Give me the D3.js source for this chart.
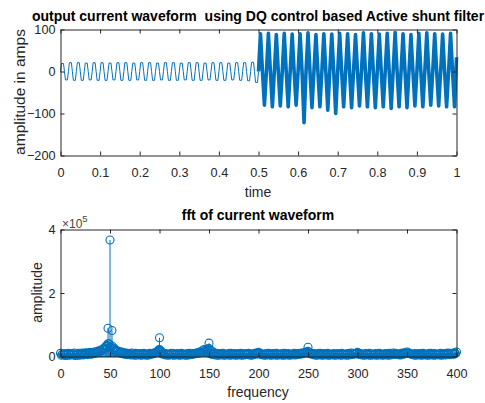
<!DOCTYPE html>
<html>
<head>
<meta charset="utf-8">
<script src="https://cdn.jsdelivr.net/npm/d3@7/dist/d3.min.js"></script>
<style>
body { margin: 0; background: #fff; }
text { font-family: "Liberation Sans", Arial, Helvetica, sans-serif; fill: #262626; white-space: pre; }
</style>
</head>
<body>
<svg id="fig" width="485" height="403"></svg>
<script>
// ---- top plot: output current, one peak / trough per 50 Hz cycle ----
var cycleLen = 0.02;
var lowPeaks   = [19, 21, 21, 20, 21, 21, 20, 21, 21, 20, 21, 21, 20, 21, 21, 20, 21, 21, 20, 21, 21, 20, 21, 21, 22];
var lowTroughs = [-20, -21, -21, -20, -21, -21, -20, -21, -21, -20, -21, -21, -20, -21, -21, -20, -21, -21, -20, -21, -21, -20, -21, -22, -26];
var highStart = 0.5;
var highPeaks   = [90, 91, 88, 91, 89, 90, 92, 88, 90, 89, 91, 90, 88, 92, 90, 89, 91, 93, 90, 88, 91, 92, 90, 89, 91];
var highTroughs = [-80, -84, -82, -84, -80, -122, -86, -84, -92, -100, -84, -86, -82, -84, -86, -84, -88, -84, -86, -82, -84, -80, -82, -84, -84];
var endValue = 34;
var timeTicks = [0, 0.1, 0.2, 0.3, 0.4, 0.5, 0.6, 0.7, 0.8, 0.9, 1];
var ampTicks = [-200, -100, 0, 100];

// ---- bottom plot: fft amplitude (x10^5) ----
// noise floor, even bins 0,2,...,400 Hz
var floorEven = [
  0.10, 0.07, 0.09, 0.06, 0.10, 0.08, 0.09, 0.11, 0.07, 0.10, 0.09, 0.11, 0.10, 0.12, 0.11, 0.13, 0.12, 0.14, 0.15, 0.17,
  0.19, 0.22, 0.26, 0.32, 0.40, 0.30, 0.33, 0.24, 0.20, 0.17, 0.15, 0.14, 0.12, 0.11, 0.10, 0.09, 0.11, 0.08, 0.10, 0.07,
  0.09, 0.07, 0.10, 0.08, 0.07, 0.10, 0.09, 0.11, 0.12, 0.16, 0.22, 0.15, 0.11, 0.09, 0.08, 0.07, 0.10, 0.09, 0.07, 0.09,
  0.07, 0.10, 0.08, 0.07, 0.09, 0.10, 0.07, 0.09, 0.10, 0.11, 0.11, 0.12, 0.14, 0.17, 0.22, 0.25, 0.19, 0.14, 0.11, 0.09,
  0.09, 0.07, 0.10, 0.08, 0.07, 0.09, 0.10, 0.07, 0.09, 0.07, 0.09, 0.10, 0.07, 0.09, 0.07, 0.10, 0.08, 0.07, 0.10, 0.11,
  0.13, 0.10, 0.08, 0.07, 0.09, 0.10, 0.07, 0.09, 0.07, 0.10, 0.08, 0.07, 0.09, 0.10, 0.07, 0.09, 0.07, 0.08, 0.10, 0.07,
  0.09, 0.10, 0.11, 0.12, 0.14, 0.16, 0.12, 0.10, 0.09, 0.07, 0.09, 0.10, 0.07, 0.09, 0.07, 0.10, 0.08, 0.07, 0.09, 0.07,
  0.09, 0.07, 0.10, 0.08, 0.07, 0.09, 0.10, 0.11, 0.08, 0.10, 0.13, 0.10, 0.08, 0.07, 0.09, 0.07, 0.10, 0.08, 0.07, 0.09,
  0.07, 0.10, 0.08, 0.07, 0.09, 0.07, 0.10, 0.08, 0.11, 0.10, 0.08, 0.07, 0.10, 0.11, 0.12, 0.14, 0.11, 0.08, 0.07, 0.09,
  0.07, 0.09, 0.07, 0.10, 0.08, 0.07, 0.09, 0.10, 0.07, 0.09, 0.07, 0.08, 0.10, 0.07, 0.09, 0.10, 0.11, 0.09, 0.10, 0.12,
  0.14
];
// noise floor, odd bins 1,3,...,399 Hz
var floorOdd = [
  0.04, 0.06, 0.03, 0.05, 0.04, 0.06, 0.05, 0.03, 0.05, 0.04, 0.06, 0.05, 0.07, 0.06, 0.08, 0.07, 0.09, 0.10, 0.12, 0.14,
  0.18, 0.21, 0.27, 0.35, 0.40, 0.28, 0.22, 0.17, 0.14, 0.12, 0.10, 0.09, 0.07, 0.06, 0.08, 0.05, 0.06, 0.04, 0.05, 0.06,
  0.04, 0.05, 0.06, 0.04, 0.05, 0.07, 0.08, 0.10, 0.13, 0.18, 0.12, 0.08, 0.06, 0.05, 0.04, 0.06, 0.05, 0.04, 0.06, 0.05,
  0.04, 0.06, 0.05, 0.04, 0.05, 0.06, 0.07, 0.08, 0.10, 0.12, 0.14, 0.18, 0.22, 0.16, 0.12, 0.09, 0.07, 0.06, 0.05, 0.04,
  0.05, 0.06, 0.04, 0.05, 0.06, 0.04, 0.05, 0.06, 0.04, 0.05, 0.06, 0.04, 0.05, 0.06, 0.07, 0.05, 0.04, 0.06, 0.07, 0.09,
  0.08, 0.06, 0.05, 0.04, 0.06, 0.05, 0.04, 0.06, 0.05, 0.04, 0.06, 0.05, 0.04, 0.05, 0.06, 0.04, 0.05, 0.06, 0.05, 0.06,
  0.07, 0.08, 0.09, 0.11, 0.13, 0.10, 0.08, 0.06, 0.05, 0.04, 0.06, 0.05, 0.04, 0.06, 0.05, 0.04, 0.05, 0.06, 0.04, 0.05,
  0.06, 0.04, 0.05, 0.06, 0.04, 0.05, 0.06, 0.07, 0.08, 0.09, 0.07, 0.06, 0.05, 0.04, 0.06, 0.05, 0.04, 0.05, 0.06, 0.04,
  0.05, 0.06, 0.04, 0.05, 0.06, 0.04, 0.05, 0.06, 0.07, 0.08, 0.06, 0.05, 0.06, 0.08, 0.10, 0.11, 0.09, 0.07, 0.05, 0.04,
  0.06, 0.05, 0.04, 0.06, 0.05, 0.04, 0.05, 0.06, 0.04, 0.05, 0.06, 0.05, 0.04, 0.06, 0.05, 0.07, 0.06, 0.08, 0.07, 0.09
];
var peakFreq = [46, 48, 50, 52, 54, 99, 100, 101, 149, 150, 151, 249, 250];
var peakAmp  = [0.31, 0.89, 3.67, 0.82, 0.27, 0.20, 0.59, 0.18, 0.24, 0.42, 0.20, 0.12, 0.29];
var freqTicks = [0, 50, 100, 150, 200, 250, 300, 350, 400];
var fftTicks = [0, 2, 4];

var blue = "#0072bd", axCol = "#262626";
var svg = d3.select("#fig");

function drawBox(g, x, y, xt, yt, xfmt, yfmt) {
  g.append("g").attr("transform", "translate(0," + y.range()[0] + ")")
    .call(d3.axisBottom(x).tickValues(xt).tickSize(-4).tickSizeOuter(0).tickPadding(12).tickFormat(xfmt));
  g.append("g").attr("transform", "translate(0," + y.range()[1] + ")")
    .call(d3.axisTop(x).tickValues(xt).tickSize(-4).tickSizeOuter(0).tickFormat(""));
  g.append("g").attr("transform", "translate(" + x.range()[0] + ",0)")
    .call(d3.axisLeft(y).tickValues(yt).tickSize(-4).tickSizeOuter(0).tickPadding(5).tickFormat(yfmt));
  g.append("g").attr("transform", "translate(" + x.range()[1] + ",0)")
    .call(d3.axisRight(y).tickValues(yt).tickSize(-4).tickSizeOuter(0).tickFormat(""));
  g.selectAll(".domain, .tick line").attr("stroke", axCol);
  g.selectAll(".tick text").attr("font-size", "12.7px").attr("font-family", null).style("fill", axCol);
}

// ---------- top ----------
var x1 = d3.scaleLinear().domain([0, 1]).range([60.5, 456.5]);
var y1 = d3.scaleLinear().domain([-200, 100]).range([155.5, 29.5]);
var topG = svg.append("g");

var lowPts = [];
lowPeaks.forEach(function (p, k) {
  var t0 = k * cycleLen;
  lowPts.push([t0, 0], [t0 + 0.0025, p], [t0 + 0.0075, p], [t0 + 0.01, 0],
              [t0 + 0.0125, lowTroughs[k]], [t0 + 0.0175, lowTroughs[k]]);
});
lowPts.push([highStart, 0]);
var highPts = [];
highPeaks.forEach(function (p, k) {
  var t0 = highStart + k * cycleLen;
  highPts.push([t0, 0], [t0 + 0.005, p], [t0 + 0.01, 0], [t0 + 0.015, highTroughs[k]]);
});
highPts.push([1, endValue]);

var line1 = d3.line().x(function (d) { return x1(d[0]); }).y(function (d) { return y1(d[1]); });
topG.append("path").attr("d", line1(lowPts)).attr("fill", "none").attr("stroke", blue).attr("stroke-width", 1);
topG.append("path").attr("d", line1(highPts)).attr("fill", "none").attr("stroke", blue)
  .attr("stroke-width", 3.6).attr("stroke-linejoin", "round");

drawBox(topG, x1, y1, timeTicks, ampTicks, d3.format("~g"), d3.format("d"));

topG.append("text").attr("x", 258).attr("y", 20.5).attr("text-anchor", "middle")
  .attr("font-size", "14px").attr("font-weight", "bold").style("fill", "#000")
  .text("output current waveform  using DQ control based Active shunt filter");
topG.append("text").attr("x", 258).attr("y", 197).attr("text-anchor", "middle")
  .attr("font-size", "14px").text("time");
topG.append("text").attr("transform", "translate(25,92) rotate(-90)").attr("text-anchor", "middle")
  .attr("font-size", "15.5px").text("amplitude in amps");

// ---------- bottom ----------
var x2 = d3.scaleLinear().domain([0, 400]).range([60.5, 456.5]);
var y2 = d3.scaleLinear().domain([0, 4]).range([356.5, 229.5]);
var botG = svg.append("g");

var stems = [];
floorEven.forEach(function (a, i) { stems.push({ f: 2 * i, a: a }); });
floorOdd.forEach(function (a, i) { stems.push({ f: 2 * i + 1, a: a }); });
peakFreq.forEach(function (f, i) { stems.push({ f: f, a: peakAmp[i] }); });

botG.selectAll("line.stem").data(stems).enter().append("line").attr("class", "stem")
  .attr("x1", function (d) { return x2(d.f); }).attr("x2", function (d) { return x2(d.f); })
  .attr("y1", y2(0)).attr("y2", function (d) { return y2(d.a); })
  .attr("stroke", blue).attr("stroke-width", 1);
botG.append("line").attr("x1", x2(0)).attr("x2", x2(400)).attr("y1", y2(0)).attr("y2", y2(0))
  .attr("stroke", blue).attr("stroke-width", 1);
botG.selectAll("circle").data(stems).enter().append("circle")
  .attr("cx", function (d) { return x2(d.f); }).attr("cy", function (d) { return y2(d.a); })
  .attr("r", 4).attr("fill", "none").attr("stroke", blue).attr("stroke-width", 1.1);

drawBox(botG, x2, y2, freqTicks, fftTicks, d3.format("d"), d3.format("d"));

var ex = botG.append("text").attr("x", 62).attr("y", 228).attr("font-size", "12px").style("fill", "#444");
ex.append("tspan").text("\u00d710");
ex.append("tspan").attr("dy", -6).attr("font-size", "9.5px").text("5");

botG.append("text").attr("x", 258).attr("y", 220).attr("text-anchor", "middle")
  .attr("font-size", "14px").attr("font-weight", "bold").style("fill", "#000")
  .text("fft of current waveform");
botG.append("text").attr("x", 258).attr("y", 397).attr("text-anchor", "middle")
  .attr("font-size", "14px").text("frequency");
botG.append("text").attr("transform", "translate(42,292.5) rotate(-90)").attr("text-anchor", "middle")
  .attr("font-size", "14px").text("amplitude");
</script>
</body>
</html>
